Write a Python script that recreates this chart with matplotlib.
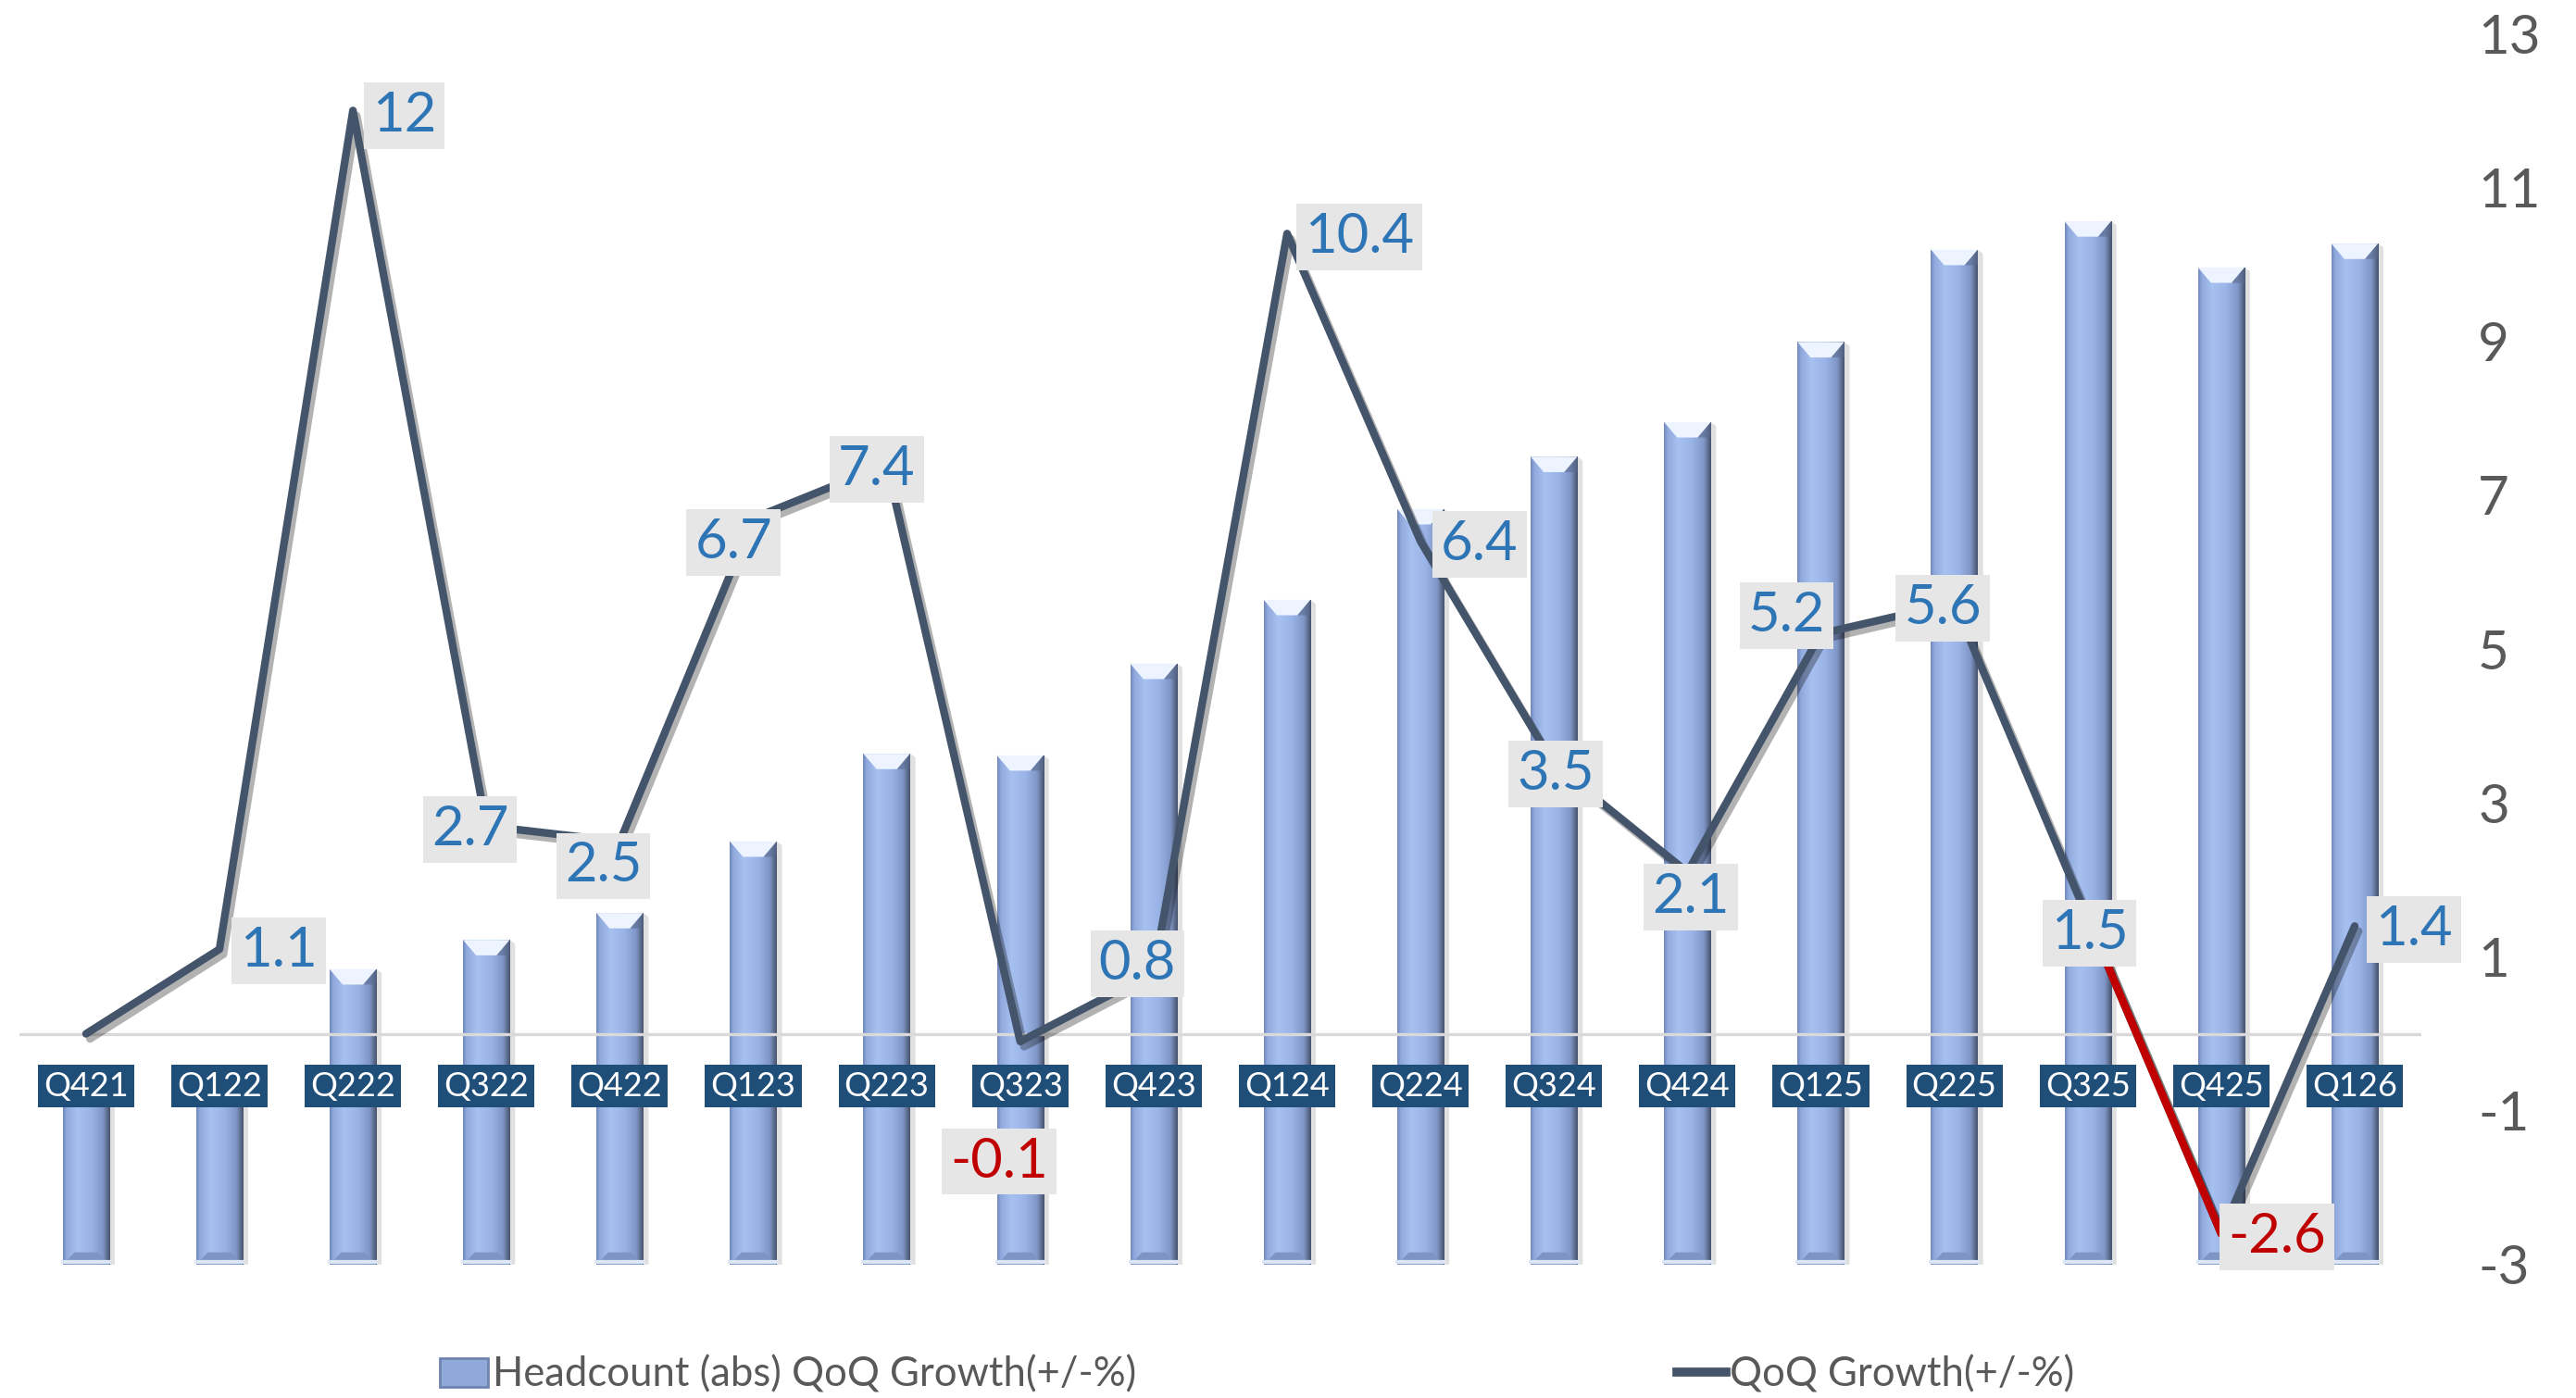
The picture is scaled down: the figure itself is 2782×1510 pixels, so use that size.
import numpy as np
import matplotlib.pyplot as plt
import matplotlib.patheffects as pe
from matplotlib.colors import LinearSegmentedColormap
from matplotlib.patches import Polygon, Patch
from matplotlib.lines import Line2D

# data
quarters = ['Q421', 'Q122', 'Q222', 'Q322', 'Q422', 'Q123', 'Q223', 'Q323', 'Q423',
            'Q124', 'Q224', 'Q324', 'Q424', 'Q125', 'Q225', 'Q325', 'Q425', 'Q126']
# headcount (abs), hidden left axis, arbitrary units
headcount = [2.3, 2.4, 3.84, 4.22, 4.57, 5.5, 6.64, 6.62, 7.81, 8.64,
             9.82, 10.5, 10.95, 11.99, 13.19, 13.56, 12.96, 13.27]
qoq_growth = [0, 1.1, 12, 2.7, 2.5, 6.7, 7.4, -0.1, 0.8, 10.4,
              6.4, 3.5, 2.1, 5.2, 5.6, 1.5, -2.6, 1.4]
show_label = [False] + [True] * 17

# label offsets in points (manual placement like the original)
label_dx = [0, 36, 31, -10, -10, -12, -6, -13, -10, 44, 36, 1, 2, -21, -7, 1, 34, 36]
label_dy = [0, -1, -3, -2, -15, -15, -3, -73, 5, -2, -2, -6, -15, 11, -3, -9, -2, -2]
red_segment = (15, 16)

plt.rcParams['font.family'] = ['Lato', 'DejaVu Sans']
plt.rcParams['axes.unicode_minus'] = False

fig = plt.figure(figsize=(13.91, 7.55), dpi=200)
ax = fig.add_axes([0.0075, 0.0954, 0.9325, 0.8806])
ax2 = ax.twinx()

x = np.arange(len(quarters))

# bars with a bevel-ish gradient
bars = ax.bar(x, headcount, width=0.35, color='#9BB7EA', zorder=2)
bar_cmap = LinearSegmentedColormap.from_list('bevel', [
    (0.0, '#6F86B8'), (0.07, '#8FA9DC'), (0.3, '#A6C0F0'),
    (0.6, '#9AB4E8'), (0.85, '#7F96C6'), (1.0, '#46526C')])
grad = np.linspace(0, 1, 128).reshape(1, -1)
for b in bars:
    x0, y0, w, h = b.get_x(), b.get_y(), b.get_width(), b.get_height()
    # soft shadow on the right
    ax.add_patch(Polygon([(x0 + w, y0), (x0 + w + 0.04, y0), (x0 + w + 0.04, y0 + h - 0.05),
                          (x0 + w, y0 + h)], closed=True, fc='#000000', alpha=0.12,
                         ec='none', zorder=1.5))
    im = ax.imshow(grad, cmap=bar_cmap, extent=[x0, x0 + w, y0, y0 + h],
                   aspect='auto', interpolation='bicubic', zorder=2)
    im.set_clip_path(b)
    bev = 0.2
    top = y0 + h
    ax.add_patch(Polygon([(x0, top), (x0 + w, top), (x0 + 0.72 * w, top - bev),
                          (x0 + 0.28 * w, top - bev)], closed=True,
                         fc='#EEF4FF', ec='none', zorder=2.1))
    ax.add_patch(Polygon([(x0 + w, top), (x0 + 0.72 * w, top - bev), (x0 + w, top - bev)],
                         closed=True, fc='#5A6A8C', ec='none', alpha=0.6, zorder=2.1))
    ax.add_patch(Polygon([(x0, y0), (x0 + w, y0), (x0 + 0.75 * w, y0 + bev * 0.8),
                          (x0 + 0.25 * w, y0 + bev * 0.8)], closed=True,
                         fc='#7E95C4', ec='none', zorder=2.1))
    ax.plot([x0, x0 + w], [y0 + 0.03, y0 + 0.03], color='#DDE6F7', lw=1.5, zorder=2.2)

ax.set_xlim(-0.5, len(quarters) - 0.5)
ax.set_ylim(0, 16)
ax.axis('off')

# growth line on the visible right axis
ax2.axhline(0, color='#D9D9D9', lw=1.2, zorder=1)
shadow = [pe.SimpleLineShadow(offset=(1.5, -2), alpha=0.3, shadow_color='black'), pe.Normal()]
ax2.plot(x, qoq_growth, color='#44546A', lw=3, solid_joinstyle='round',
         solid_capstyle='round', path_effects=shadow, zorder=3)
i0, i1 = red_segment
ax2.plot(x[i0:i1 + 1], qoq_growth[i0:i1 + 1], color='#C00000', lw=3,
         solid_capstyle='round', path_effects=shadow, zorder=3.1)

for i, v in enumerate(qoq_growth):
    if not show_label[i]:
        continue
    ax2.annotate(f'{v:g}', (x[i], v), xytext=(label_dx[i] * 0.639, label_dy[i] * 0.639),
                 textcoords='offset points', ha='center', va='center', fontsize=21.5,
                 color='#C00000' if v < 0 else '#2E75B6', zorder=6,
                 bbox=dict(boxstyle='square,pad=0.15', fc='#E7E6E6', ec='none'))

# category labels in dark boxes
for i, q in enumerate(quarters):
    ax2.text(x[i], -0.68, q, ha='center', va='center', color='white', fontsize=13,
             zorder=5, bbox=dict(boxstyle='square,pad=0.17', fc='#1F4E79', ec='none'))

ax2.set_ylim(-3, 13)
ax2.set_yticks(range(-3, 14, 2))
ax2.tick_params(axis='y', length=0, pad=22, labelsize=21, labelcolor='#595959')
for s in ax2.spines.values():
    s.set_visible(False)

handles = [Patch(fc='#8FA9DB', ec='#6E84B0', lw=1),
           Line2D([0], [0], color='#44546A', lw=3.5)]
fig.legend(handles, ['Headcount (abs) QoQ Growth(+/-%)', 'QoQ Growth(+/-%)'],
           loc='center', bbox_to_anchor=(0.488, 0.0166), ncol=2, frameon=False,
           fontsize=15.7, labelcolor='#595959', handlelength=1.2, handletextpad=0.1,
           columnspacing=13.4)

fig.savefig('out.png', dpi=200)
